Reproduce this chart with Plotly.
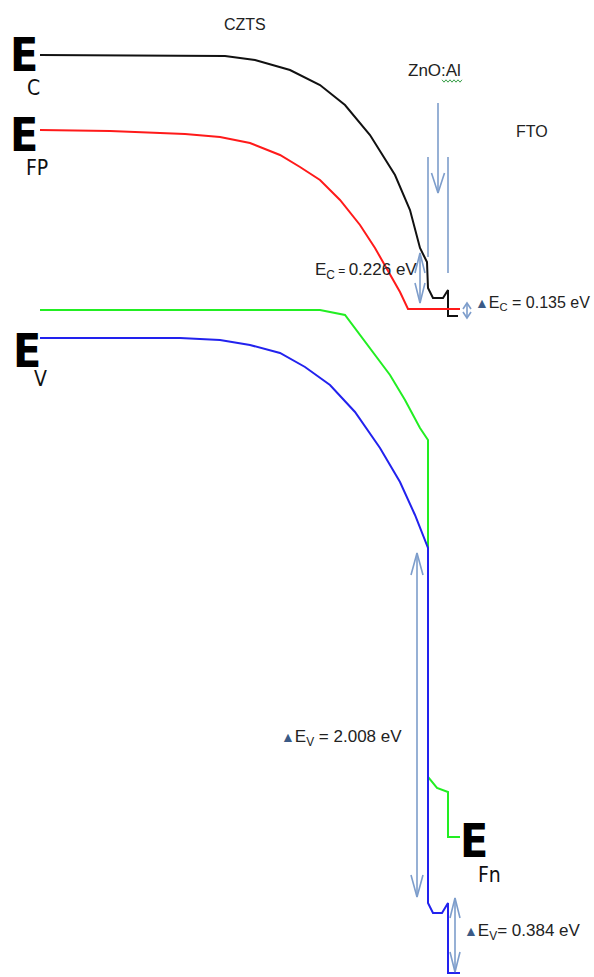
import plotly.graph_objects as go

# ---- band curves (diagram coordinates: x to the right, y downward) ----
ec_x = [40, 225, 255, 290, 320, 345, 370, 395, 410, 420, 427, 428, 433, 443, 448, 448, 458]
ec_y = [55, 56, 60, 70, 85, 105, 135, 175, 210, 248, 262, 288, 298, 298, 290, 316, 316]

efp_x = [40, 110, 185, 220, 250, 280, 300, 320, 340, 360, 375, 390, 400, 408, 460]
efp_y = [130, 131, 134, 137, 143, 155, 167, 180, 200, 225, 248, 275, 292, 309, 309]

efn_x = [40, 320, 345, 360, 375, 390, 405, 420, 428, 428, 437, 448, 448, 460]
efn_y = [310, 310, 315, 335, 355, 375, 400, 428, 440, 777, 788, 792, 837, 837]

ev_x = [40, 180, 220, 250, 280, 305, 330, 355, 380, 400, 415, 428, 428, 433, 442, 448, 448, 460]
ev_y = [338, 338, 340, 345, 353, 367, 385, 412, 448, 482, 515, 548, 903, 913, 913, 903, 973, 973]

# ---- arrows: (x, y_start, y_end, head at start?, head at end?, head half-width, head length)
arrows = [
    (438, 103, 193, False, True, 6.5, 20),
    (428, 157, 257, False, False, 0, 0),
    (448, 157, 273, False, False, 0, 0),
    (420, 253, 303, True, True, 5, 20),
    (467, 303, 318, True, True, 4, 6),
    (417, 553, 897, True, True, 6, 22),
    (455, 898, 972, True, True, 5, 20),
]

# ---- text labels ----
small_labels = ["CZTS", "ZnO:Al", "FTO"]
small_pos = [(245, 24), (434, 70), (532, 131)]
small_sizes = [16, 17, 16]

TRI = "<span style='color:#3b5a86;font-size:14px'>▲</span>"
value_labels = [
    "E<sub>C</sub><span style='font-size:12px'> = </span>0.226 eV",
    TRI + "E<sub>C</sub> = 0.135 eV",
    TRI + "E<sub>V</sub> = 2.008 eV",
    TRI + "E<sub>V</sub>= 0.384 eV",
]
value_pos = [(313, 271), (473, 303), (279, 738), (462, 932)]
value_sizes = [17, 16, 17, 17]

big_E_pos = [(24, 55), (24, 135), (27, 351), (474, 841)]
sub_labels = ["C", "FP", "V", "Fn"]
sub_pos = [(33, 88), (37, 168), (40, 379), (489, 875)]

FONT = "DejaVu Sans Condensed, Liberation Sans, sans-serif"
TFONT = "Liberation Sans, Arial, sans-serif"
ARROW_COLOR = "#7d9dcb"

fig = go.Figure()

for xs, ys, col in [(ec_x, ec_y, "#111111"), (efp_x, efp_y, "#ff1a1a"),
                    (efn_x, efn_y, "#22ee22"), (ev_x, ev_y, "#2222ee")]:
    fig.add_trace(go.Scatter(x=xs, y=ys, mode="lines",
                             line=dict(color=col, width=2), hoverinfo="skip",
                             showlegend=False))


def chevron(hx, hy, direction, w, l):
    # direction: +1 head points down, -1 head points up
    return [hx - w, hx, hx + w], [hy - direction * l, hy, hy - direction * l]


for (ax, y0, y1, hs, he, w, l) in arrows:
    fig.add_trace(go.Scatter(x=[ax, ax], y=[y0, y1], mode="lines",
                             line=dict(color=ARROW_COLOR, width=1.6),
                             hoverinfo="skip", showlegend=False))
    if hs:
        cx, cy = chevron(ax, y0, -1, w, l)
        fig.add_trace(go.Scatter(x=cx, y=cy, mode="lines",
                                 line=dict(color=ARROW_COLOR, width=1.6),
                                 hoverinfo="skip", showlegend=False))
    if he:
        cx, cy = chevron(ax, y1, 1, w, l)
        fig.add_trace(go.Scatter(x=cx, y=cy, mode="lines",
                                 line=dict(color=ARROW_COLOR, width=1.6),
                                 hoverinfo="skip", showlegend=False))

# green wavy underline under "Al"
wx = [442 + 2 * i for i in range(11)]
wy = [81 + (1.2 if i % 2 else -1.2) for i in range(11)]
fig.add_trace(go.Scatter(x=wx, y=wy, mode="lines", line=dict(color="#3aa04a", width=1),
                         hoverinfo="skip", showlegend=False))

annotations = []
for t, (x, y), s in zip(small_labels, small_pos, small_sizes):
    annotations.append(dict(x=x, y=y, text=t, showarrow=False, xref="x", yref="y",
                            xanchor="center", yanchor="middle",
                            font=dict(family=TFONT, size=s, color="#222222")))
for t, (x, y), s in zip(value_labels, value_pos, value_sizes):
    annotations.append(dict(x=x, y=y, text=t, showarrow=False, xref="x", yref="y",
                            xanchor="left", yanchor="middle",
                            font=dict(family=TFONT, size=s, color="#222222")))
for (x, y) in big_E_pos:
    annotations.append(dict(x=x, y=y, text="<b>E</b>", showarrow=False, xref="x", yref="y",
                            xanchor="center", yanchor="middle",
                            font=dict(family=FONT, size=46, color="#000000")))
for t, (x, y) in zip(sub_labels, sub_pos):
    annotations.append(dict(x=x, y=y, text=t, showarrow=False, xref="x", yref="y",
                            xanchor="center", yanchor="middle",
                            font=dict(family=FONT, size=21, color="#111111")))

fig.update_layout(
    width=594, height=977,
    margin=dict(l=0, r=0, t=0, b=0),
    paper_bgcolor="white", plot_bgcolor="white",
    xaxis=dict(range=[0, 594], visible=False, fixedrange=True),
    yaxis=dict(range=[977, 0], visible=False, fixedrange=True),
    annotations=annotations,
    showlegend=False,
)

fig.write_html("out.html")
